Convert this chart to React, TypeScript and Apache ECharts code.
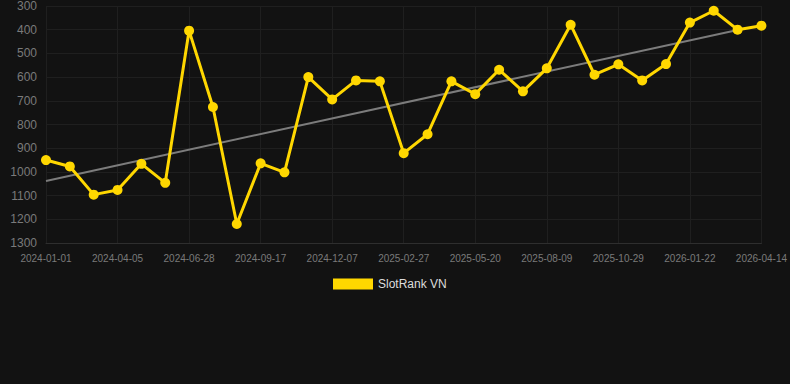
import React, { useEffect, useRef } from "react";
import * as echarts from "echarts";

const dates = [
  "2024-01-01", "2024-02-02", "2024-03-05", "2024-04-05", "2024-05-03", "2024-05-31",
  "2024-06-28", "2024-07-25", "2024-08-21", "2024-09-17", "2024-10-14", "2024-11-10",
  "2024-12-07", "2025-01-03", "2025-01-31", "2025-02-27", "2025-03-26", "2025-04-23",
  "2025-05-20", "2025-06-16", "2025-07-13", "2025-08-09", "2025-09-05", "2025-10-02",
  "2025-10-29", "2025-11-26", "2025-12-24", "2026-01-22", "2026-02-18", "2026-03-17",
  "2026-04-14",
];

const ranks = [
  950, 977, 1096, 1076, 966, 1046, 404, 726, 1220, 964, 1002, 600, 694, 614, 618, 921,
  841, 618, 672, 569, 660, 563, 379, 590, 546, 614, 545, 370, 320, 400, 383,
];

const trendStart = 1038;
const trendEnd = 401;
const trendEndIndex = 29;

const seriesName = "SlotRank VN";

export default function App() {
  const ref = useRef<HTMLDivElement>(null);
  useEffect(() => {
    if (!ref.current) return;
    const chart = echarts.init(ref.current, null, { renderer: "svg" });
    chart.setOption({
      animation: false,
      backgroundColor: "#121212",
      grid: { left: 46, right: 28, top: 6, bottom: 141, containLabel: false },
      legend: {
        data: [seriesName],
        top: 273,
        left: 328,
        icon: "rect",
        itemWidth: 40,
        itemHeight: 11,
        itemGap: 8,
        textStyle: { color: "#dddddd", fontSize: 12, fontFamily: "Liberation Sans, Arial, sans-serif" },
      },
      xAxis: {
        type: "category",
        data: dates,
        boundaryGap: false,
        axisLine: { show: true, lineStyle: { color: "#2e2e2e" } },
        axisTick: { show: false },
        axisLabel: {
          interval: 2,
          color: "#7a7a7a",
          fontSize: 10,
          margin: 10,
          fontFamily: "Liberation Sans, Arial, sans-serif",
        },
        splitLine: { show: true, interval: 2, lineStyle: { color: "#1f1f1f" } },
      },
      yAxis: {
        type: "value",
        inverse: true,
        min: 300,
        max: 1300,
        interval: 100,
        axisLine: { show: false },
        axisTick: { show: false },
        axisLabel: {
          color: "#7a7a7a",
          fontSize: 12,
          margin: 9,
          fontFamily: "Liberation Sans, Arial, sans-serif",
          formatter: (v: number) => String(v),
        },
        splitLine: { show: true, lineStyle: { color: "#1f1f1f" } },
      },
      series: [
        {
          name: "Trend",
          type: "line",
          data: [
            [0, trendStart],
            [trendEndIndex, trendEnd],
          ],
          symbol: "none",
          lineStyle: { color: "#7c7c7c", width: 2 },
          z: 1,
          silent: true,
        },
        {
          name: seriesName,
          type: "line",
          data: ranks,
          symbol: "circle",
          symbolSize: 10,
          itemStyle: { color: "#FFD700" },
          lineStyle: { color: "#FFD700", width: 3 },
          z: 2,
        },
      ],
    });
    return () => chart.dispose();
  }, []);
  return (
    <div
      ref={ref}
      style={{ position: "fixed", left: 0, top: 0, width: 790, height: 384 }}
    />
  );
}
